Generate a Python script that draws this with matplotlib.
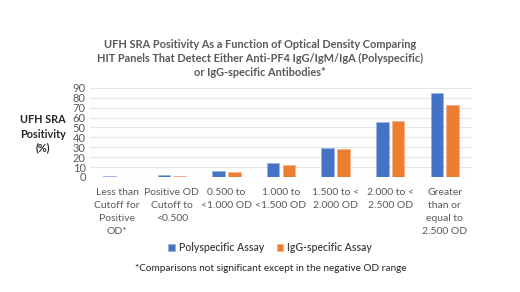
import numpy as np
import matplotlib
matplotlib.use("Agg")
import matplotlib.pyplot as plt

plt.rcParams['font.family'] = ['Lato', 'DejaVu Sans']

# data
categories = ["Less than\nCutoff for\nPositive\nOD*", "Positive OD\nCutoff to\n<0.500",
              "0.500 to\n<1.000 OD", "1.000 to\n<1.500 OD", "1.500 to <\n2.000 OD",
              "2.000 to <\n2.500 OD", "Greater\nthan or\nequal to\n2.500 OD"]
poly = [0.7, 1.7, 6.3, 14, 29, 56, 85]
igg = [0.2, 1.0, 5.3, 12, 28, 57, 73]
yticks = list(range(0, 100, 10))

blue = "#4472C4"
orange = "#ED7D31"
grey = "#595959"

fig = plt.figure(figsize=(5.2, 2.92), dpi=100)
ax = fig.add_axes([0.173, 0.394, 0.735, 0.305])

x = np.arange(len(categories))
w = 0.23
ax.bar(x - w/2 - 0.03, poly, w, color=blue, edgecolor="#9DB5E3", linewidth=0.6,
       label="Polyspecific Assay", zorder=3)
ax.bar(x + w/2 + 0.03, igg, w, color=orange, edgecolor="#F5B38A", linewidth=0.6,
       label="IgG-specific Assay", zorder=3)

ax.set_xlim(-0.5, len(categories) - 0.5)
ax.set_ylim(0, 90)
ax.set_yticks(yticks)
ax.yaxis.grid(True, color="#E6E6E6", linewidth=0.8, zorder=0)
for s in ax.spines.values():
    s.set_visible(False)
ax.tick_params(length=0, labelsize=8, labelcolor=grey)
ax.tick_params(axis="y", pad=3)
ax.set_xticks(x)
ax.set_xticklabels(categories, fontsize=7.5, linespacing=1.55)
ax.tick_params(axis="x", pad=8)

fig.text(0.5, 0.80, "UFH SRA Positivity As a Function of Optical Density Comparing\n"
         "HIT Panels That Detect Either Anti-PF4 IgG/IgM/IgA (Polyspecific)\n"
         "or IgG-specific Antibodies*", ha="center", va="center", fontsize=7.9,
         fontweight="bold", color=grey, linespacing=1.3)
fig.text(0.083, 0.541, "UFH SRA\nPositivity\n(%)", ha="center", va="center", fontsize=7.8,
         fontweight="bold", color="#262626", linespacing=1.35)

fig.legend(loc="center", bbox_to_anchor=(0.52, 0.151), ncol=2, frameon=False,
           prop={"size": 7.6, "weight": "semibold"}, handlelength=0.6, handleheight=0.6,
           handletextpad=0.4, columnspacing=1.2, labelcolor="#404040")
fig.text(0.52, 0.079, "*Comparisons not significant except in the negative OD range",
         ha="center", va="center", fontsize=7.2, color="#262626")

fig.savefig("out.png", dpi=100)
